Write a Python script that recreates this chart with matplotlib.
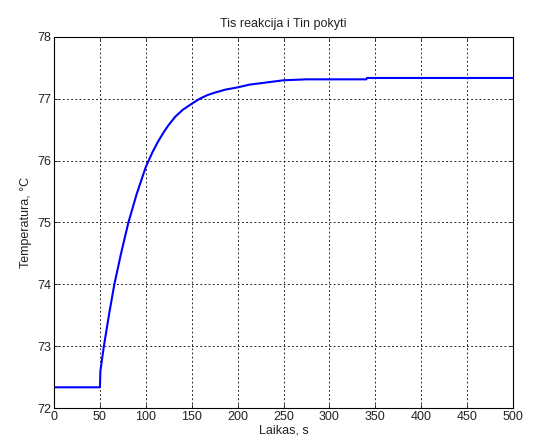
import numpy as np
import matplotlib
matplotlib.use("Agg")
import matplotlib.pyplot as plt

# readings from the reference curve
time_s = [0, 50, 50.5, 54.3, 60, 65.7, 73, 81, 90, 95, 100, 107, 113, 119,
          125, 132, 140, 150, 158.5, 167, 175, 187, 200, 213, 229, 250, 275,
          340, 341, 500]
temp_c = [72.335, 72.335, 72.6, 73.0, 73.52, 74.0, 74.5, 75.0, 75.46, 75.68,
          75.9, 76.13, 76.3, 76.45, 76.58, 76.71, 76.82, 76.92, 77.0, 77.06,
          77.1, 77.15, 77.185, 77.23, 77.26, 77.30, 77.315, 77.315, 77.337,
          77.337]

x_ticks = list(range(0, 501, 50))
y_ticks = [72, 73, 74, 75, 76, 77, 78]

plt.rcParams['font.family'] = ['Liberation Sans', 'DejaVu Sans']
plt.rcParams['font.size'] = 8.5

fig = plt.figure(figsize=(5.35, 4.43), dpi=100)
ax = fig.add_axes([0.101, 0.079, 0.858, 0.8375])

ax.plot(time_s, temp_c, color=(0, 0, 1), linewidth=1.5)

ax.set_xlim(0, 500)
ax.set_ylim(72, 78)
ax.set_xticks(x_ticks)
ax.set_yticks(y_ticks)
ax.grid(True, color='black', linestyle=(0, (2.2, 2.8)), linewidth=0.6)
ax.tick_params(direction='in', top=True, right=True, length=3, width=0.6,
               colors='#222222', labelsize=9, pad=2)
for s in ax.spines.values():
    s.set_linewidth(0.8)

ax.set_title("Tis reakcija i Tin pokyti", fontsize=9, color='#222222', pad=7)
ax.set_xlabel("Laikas, s", fontsize=9, color='#222222', labelpad=1)
ax.set_ylabel("Temperatura, \u00b0C", fontsize=9, color='#222222', labelpad=4)

fig.savefig("out.png", dpi=100, facecolor='white')
